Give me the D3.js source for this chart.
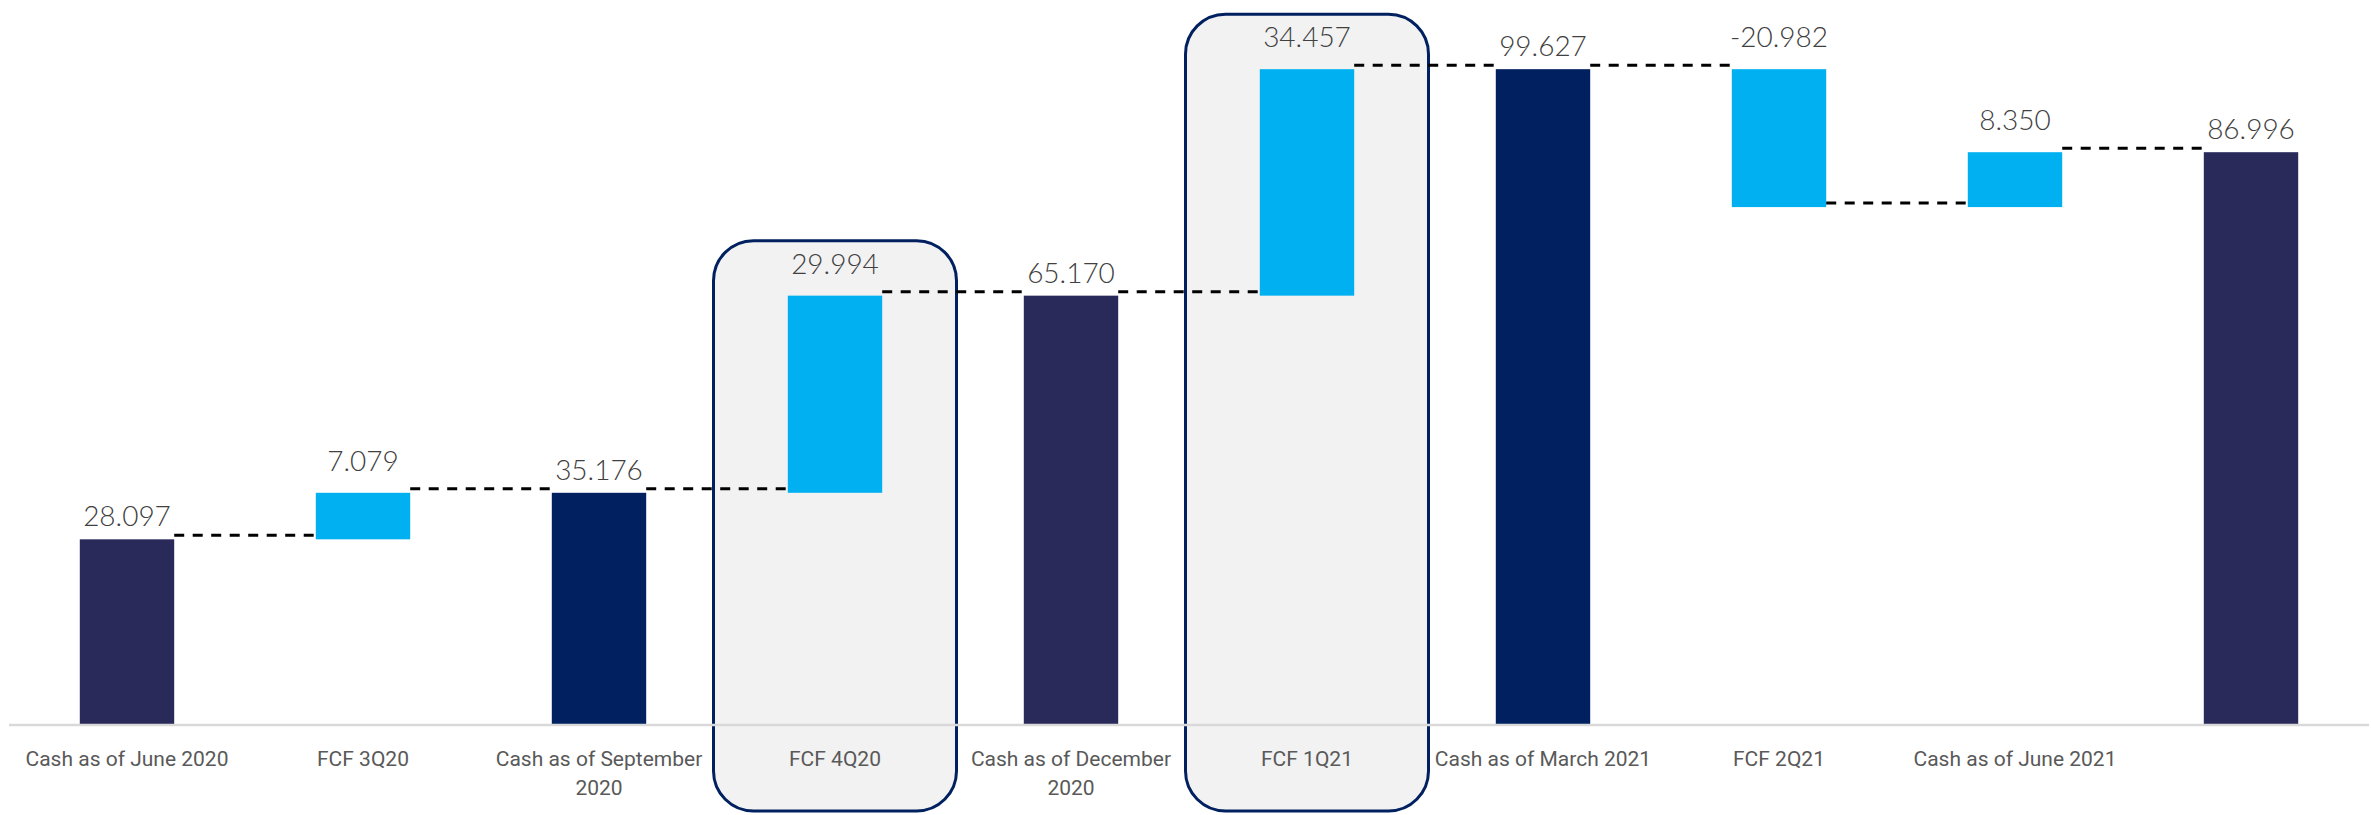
<!DOCTYPE html>
<html>
<head>
<meta charset="utf-8">
<script src="https://cdn.jsdelivr.net/npm/d3@7/dist/d3.min.js"></script>
<style>
  html, body { margin: 0; padding: 0; background: #ffffff; }
  svg { display: block; }
</style>
</head>
<body>
<script>
// Cash bridge: opening cash, quarterly free cash flow, closing cash
const categories = [
  "Cash as of June 2020", "FCF 3Q20", "Cash as of September 2020", "FCF 4Q20",
  "Cash as of December 2020", "FCF 1Q21", "Cash as of March 2021", "FCF 2Q21",
  "Cash as of June 2021", ""
];
const values = [28.097, 7.079, 35.176, 29.994, 65.170, 34.457, 99.627, -20.982, 8.350, 86.996];
const kinds = ["total", "delta", "total", "delta", "total", "delta", "total", "delta", "delta", "total"];
const highlighted = ["FCF 4Q20", "FCF 1Q21"];

const W = 2371, H = 815;
const baseY = 724;

const svg = d3.select("body").append("svg")
  .attr("width", W).attr("height", H);

const x = d3.scaleBand()
  .domain(d3.range(values.length))
  .range([9, 2369])
  .paddingInner(0.6)
  .paddingOuter(0.3);

const y = d3.scaleLinear().domain([0, 110]).range([baseY, 1]);

// running totals: each step floats between start and end
let running = 0;
const steps = values.map((v, i) => {
  let start, end;
  if (kinds[i] === "total") { start = 0; end = v; }
  else { start = running; end = running + v; }
  running = end;
  return { i, v, kind: kinds[i], start, end, label: categories[i] };
});

const totalColors = ["#29295a", "#002060"];
let totalCount = 0;
steps.forEach(s => {
  s.color = s.kind === "total" ? totalColors[(totalCount++) % 2] : "#00b0f0";
});

// plain hyphen for negatives
const fmt = d3.formatLocale({ decimal: ".", thousands: ",", grouping: [3], currency: ["", ""], minus: "-" }).format(".3f");

// highlight frames behind the chosen quarters
const boxes = svg.append("g");
steps.filter(s => highlighted.includes(s.label) && s.label !== "").forEach(s => {
  const cx = x(s.i) + x.bandwidth() / 2;
  const bw = x.step() + 7;
  const top = y(Math.max(s.start, s.end)) - 55;
  boxes.append("rect")
    .attr("x", cx - bw / 2)
    .attr("y", top)
    .attr("width", bw)
    .attr("height", 811 - top)
    .attr("rx", 40).attr("ry", 40)
    .attr("fill", "#f2f2f2")
    .attr("stroke", "#002060")
    .attr("stroke-width", 3);
});

// bars
svg.append("g").selectAll("rect")
  .data(steps)
  .join("rect")
  .attr("x", d => x(d.i))
  .attr("width", x.bandwidth())
  .attr("y", d => y(Math.max(d.start, d.end)))
  .attr("height", d => Math.abs(y(d.start) - y(d.end)))
  .attr("fill", d => d.color);

// category axis line
svg.append("line")
  .attr("x1", x.range()[0]).attr("x2", x.range()[1])
  .attr("y1", baseY + 1).attr("y2", baseY + 1)
  .attr("stroke", "#d9d9d9")
  .attr("stroke-width", 2.5);

const connectorLayer = svg.append("g");

// value labels
const valueLabels = svg.append("g").selectAll("text")
  .data(steps)
  .join("text")
  .attr("x", d => x(d.i) + x.bandwidth() / 2)
  .attr("y", d => y(Math.max(d.start, d.end)) - (d.kind === "total" ? 13 : 22))
  .attr("text-anchor", "middle")
  .attr("font-family", "Lato, 'Noto Sans', sans-serif")
  .attr("font-weight", 300)
  .attr("font-size", 28)
  .attr("fill", "#404040")
  .text(d => fmt(d.v));

const labelExtent = [];
valueLabels.each(function(d) {
  const w = this.getComputedTextLength();
  const cx = x(d.i) + x.bandwidth() / 2;
  labelExtent[d.i] = [cx - w / 2, cx + w / 2];
});

// dashed connectors between consecutive steps
for (let i = 0; i < steps.length - 1; i++) {
  const a = steps[i], b = steps[i + 1];
  const level = y(a.end) - 4;
  const x1 = x(a.i) + x.bandwidth();
  const x2 = b.kind === "total" ? labelExtent[b.i][0] : x(b.i);
  connectorLayer.append("line")
    .attr("x1", x1).attr("x2", x2)
    .attr("y1", level).attr("y2", level)
    .attr("stroke", "#000000")
    .attr("stroke-width", 3)
    .attr("stroke-dasharray", "10,8.5");
}

// category labels, wrapped to the band width
const catLabels = svg.append("g").selectAll("text")
  .data(steps)
  .join("text")
  .attr("x", d => x(d.i) + x.bandwidth() / 2)
  .attr("y", 766)
  .attr("text-anchor", "middle")
  .attr("font-family", "Roboto, 'Noto Sans', sans-serif")
  .attr("font-size", 21)
  .attr("fill", "#595959");

catLabels.each(function(d) {
  const t = d3.select(this);
  const words = d.label.split(" ").filter(w => w.length);
  const maxW = x.step() - 8;
  let line = [];
  let tspan = t.append("tspan").attr("x", t.attr("x")).attr("dy", 0);
  words.forEach(w => {
    line.push(w);
    tspan.text(line.join(" "));
    if (tspan.node().getComputedTextLength() > maxW && line.length > 1) {
      line.pop();
      tspan.text(line.join(" "));
      line = [w];
      tspan = t.append("tspan").attr("x", t.attr("x")).attr("dy", 29).text(w);
    }
  });
});
</script>
</body>
</html>
